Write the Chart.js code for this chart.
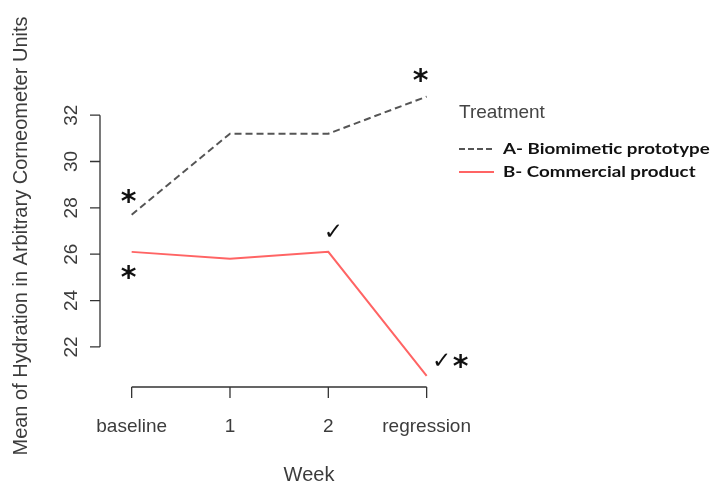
<!DOCTYPE html>
<html>
<head>
<meta charset="utf-8">
<script src="https://cdn.jsdelivr.net/npm/chart.js@4/dist/chart.umd.min.js"></script>
<style>
  html, body { margin: 0; padding: 0; background: #fff; }
  canvas { display: block; }
</style>
</head>
<body>
<canvas id="c" width="714" height="483"></canvas>
<script>
// Week categories and mean hydration per treatment
const weeks = ['baseline', '1', '2', 'regression'];
const biomimetic = [27.7, 31.2, 31.2, 32.8];
const commercial = [26.1, 25.8, 26.1, 20.75];
const yTicks = [22, 24, 26, 28, 30, 32];
const seriesNames = ['A- Biomimetic prototype', 'B- Commercial product'];
const seriesValues = [biomimetic, commercial];

// Significance marks attached to data points: [series, week index, symbol]
const marks = [
  [0, 0, '*'],
  [1, 0, '*'],
  [1, 2, '\u2713'],
  [0, 3, '*'],
  [1, 3, '\u2713'],
  [1, 3, '*']
];
// drawing offsets (px) for each mark, in the same order
const markOffsets = [[-3, -19], [-3, 20], [5, -19], [-6, -21], [15, -14], [34, -15]];

const AXIS = '#333';
const TXT = '#3c3c3c';
const tickFont = '19px "Liberation Sans", Arial, sans-serif';

const axesPlugin = {
  id: 'rAxes',
  afterDraw(chart) {
    const ctx = chart.ctx;
    const xs = chart.scales.x, ys = chart.scales.y, area = chart.chartArea;
    ctx.save();
    ctx.strokeStyle = AXIS;
    ctx.lineWidth = 1.3;
    ctx.fillStyle = TXT;

    // x axis
    const xb = area.bottom;
    const x0 = xs.getPixelForValue(0), x3 = xs.getPixelForValue(weeks.length - 1);
    ctx.beginPath();
    ctx.moveTo(x0, xb); ctx.lineTo(x3, xb);
    weeks.forEach((w, i) => {
      const px = xs.getPixelForValue(i);
      ctx.moveTo(px, xb); ctx.lineTo(px, xb + 11);
    });
    ctx.stroke();
    ctx.font = tickFont;
    ctx.textAlign = 'center';
    ctx.textBaseline = 'middle';
    weeks.forEach((w, i) => ctx.fillText(w, xs.getPixelForValue(i), xb + 40));
    ctx.font = '20px "Liberation Sans", Arial, sans-serif';
    ctx.fillText('Week', 309, 475);

    // y axis
    const yl = area.left;
    ctx.beginPath();
    ctx.moveTo(yl, ys.getPixelForValue(yTicks[0]));
    ctx.lineTo(yl, ys.getPixelForValue(yTicks[yTicks.length - 1]));
    yTicks.forEach(t => {
      const py = ys.getPixelForValue(t);
      ctx.moveTo(yl, py); ctx.lineTo(yl - 10, py);
    });
    ctx.stroke();
    ctx.font = tickFont;
    yTicks.forEach(t => {
      const py = ys.getPixelForValue(t);
      ctx.save();
      ctx.translate(yl - 28, py);
      ctx.rotate(-Math.PI / 2);
      ctx.fillText(String(t), 0, 0);
      ctx.restore();
    });
    ctx.save();
    ctx.font = '20px "Liberation Sans", Arial, sans-serif';
    ctx.translate(21, (area.top + area.bottom) / 2);
    ctx.rotate(-Math.PI / 2);
    ctx.fillText('Mean of Hydration in Arbitrary Corneometer Units', 0, 0);
    ctx.restore();

    // legend
    ctx.textAlign = 'left';
    ctx.font = '19px "Liberation Sans", Arial, sans-serif';
    ctx.fillStyle = '#444';
    ctx.fillText('Treatment', 459, 113);
    chart.data.datasets.forEach((ds, i) => {
      const ly = i === 0 ? 149 : 172;
      ctx.save();
      ctx.strokeStyle = ds.borderColor;
      ctx.lineWidth = 2;
      ctx.setLineDash(i === 0 ? [6, 3] : []);
      ctx.beginPath();
      ctx.moveTo(459, ly); ctx.lineTo(494, ly);
      ctx.stroke();
      ctx.restore();
      ctx.save();
      ctx.fillStyle = '#111';
      ctx.font = 'bold 16px Lato, "Open Sans", sans-serif';
      ctx.translate(503, ly);
      ctx.scale(1.17, 1);
      ctx.fillText(seriesNames[i], 0, 0);
      ctx.restore();
    });

    // significance marks
    ctx.fillStyle = '#111';
    ctx.textAlign = 'center';
    marks.forEach((m, k) => {
      const px = xs.getPixelForValue(m[1]);
      const py = ys.getPixelForValue(seriesValues[m[0]][m[1]]);
      const [dx, dy] = markOffsets[k];
      const star = m[2] === '*';
      ctx.font = star ? 'bold 30px "DejaVu Sans", sans-serif' : 'bold 23px "DejaVu Sans", sans-serif';
      ctx.fillText(m[2], px + dx, py + dy + (star ? 7 : 0));
    });
    ctx.restore();
  }
};

new Chart(document.getElementById('c'), {
  type: 'line',
  data: {
    datasets: seriesValues.map((vals, i) => ({
      label: seriesNames[i],
      data: vals.map((v, k) => ({ x: k, y: v })),
      parsing: false,
      borderColor: i === 0 ? '#555555' : '#ff6464',
      borderWidth: 2,
      borderDash: i === 0 ? [7, 4] : [],
      pointRadius: 0,
      tension: 0,
      clip: false
    }))
  },
  options: {
    responsive: false,
    devicePixelRatio: 1,
    animation: false,
    layout: { padding: { left: 100, top: 85, right: 14, bottom: 96 } },
    plugins: { legend: { display: false }, tooltip: { enabled: false } },
    scales: {
      x: { type: 'linear', min: -0.322, max: 5.78, display: false },
      y: { type: 'linear', min: 20.27, max: 33.3, display: false }
    }
  },
  plugins: [axesPlugin]
});
</script>
</body>
</html>
